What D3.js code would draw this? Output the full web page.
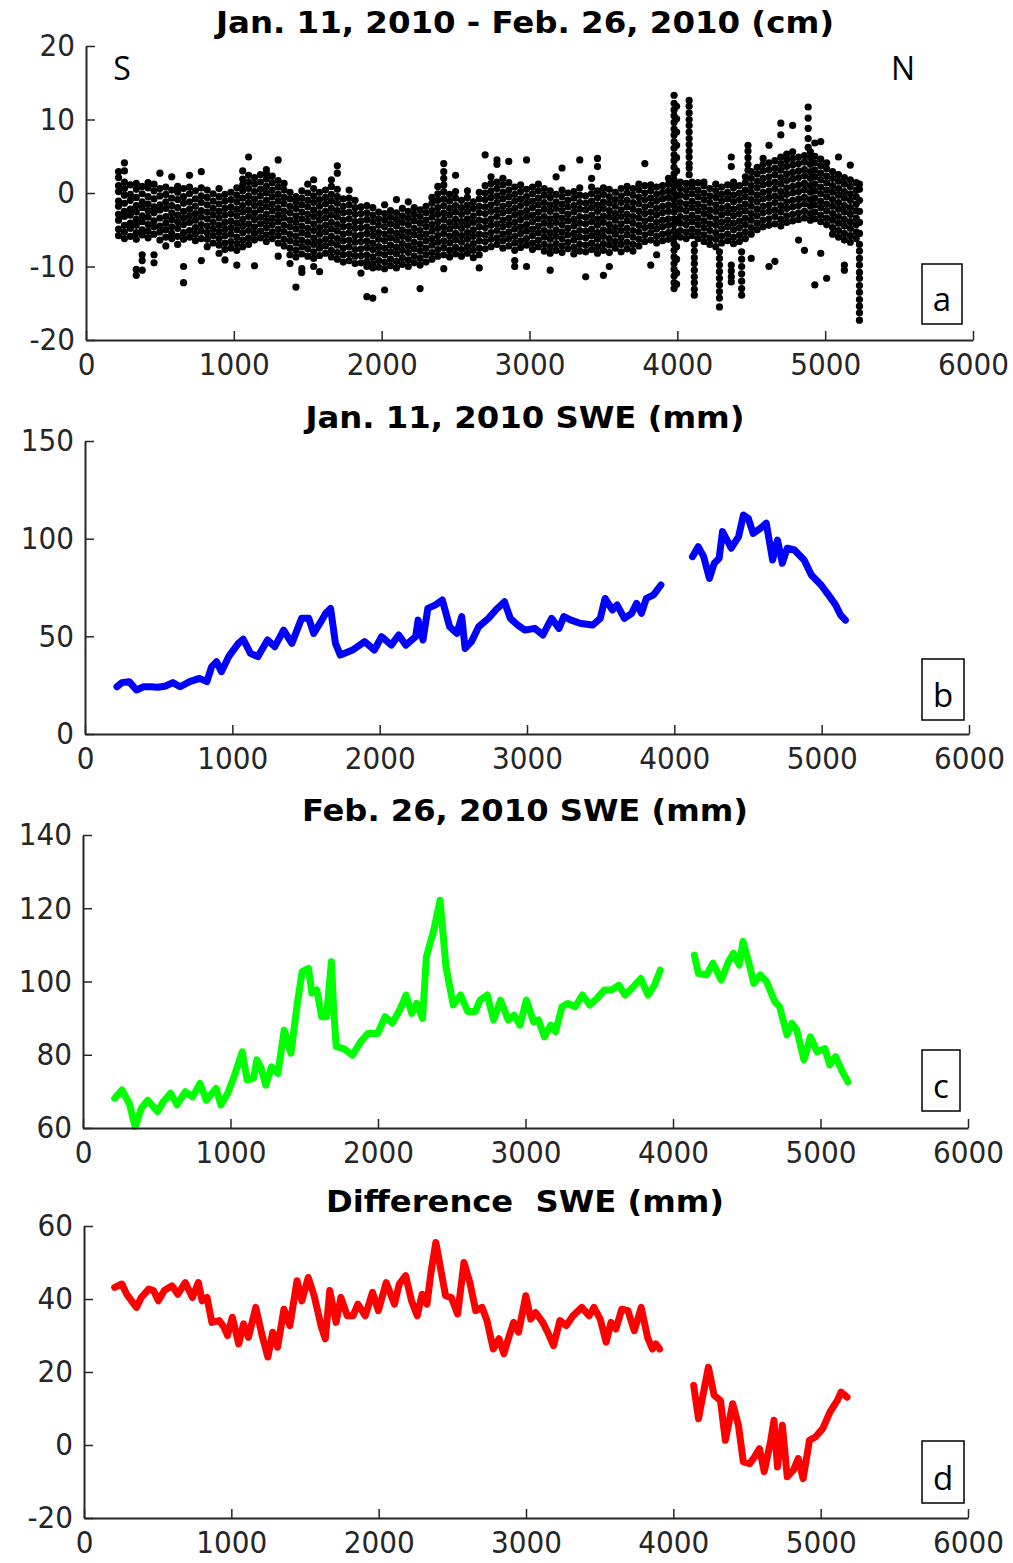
<!DOCTYPE html>
<html>
<head>
<meta charset="utf-8">
<title>SWE transect</title>
<script src="https://cdn.jsdelivr.net/npm/d3@7"></script>
<style>
  body { margin: 0; background: #fff; }
  svg text { font-family: "DejaVu Sans Condensed", "DejaVu Sans", sans-serif; font-stretch: condensed; }
</style>
</head>
<body>
<svg id="chart" width="1013" height="1563"></svg>
<script>
// ---- data ----
const titles = ["Jan. 11, 2010 - Feb. 26, 2010 (cm)", "Jan. 11, 2010 SWE (mm)", "Feb. 26, 2010 SWE (mm)", "Difference  SWE (mm)"];
const panelLetters = ["a", "b", "c", "d"];
const xTicks = [0, 1000, 2000, 3000, 4000, 5000, 6000];
const yTicksA = [-20, -10, 0, 10, 20];
const yTicksB = [0, 50, 100, 150];
const yTicksC = [60, 80, 100, 120, 140];
const yTicksD = [-20, 0, 20, 40, 60];

// panel a: [distance, depth change values ...] read column by column
const depthChange = [
  [220, -5.8,-4.9,-3.7,-2.9,-1.8,-1.1,0.2,1.0,2.1,2.9],
  [260, -6.2,-5.3,-4.4,-3.2,-2.5,-1.4,-0.3,0.6,1.5,4.1,3.0],
  [300, -5.9,-4.8,-4.1,-3.0,-2.2,-1.0,-0.2,1.1],
  [340, -6.3,-5.4,-4.4,-3.6,-2.6,-1.7,-0.6,0.5,1.3,-11.2,-10.4],
  [380, -5.7,-5.0,-3.9,-3.1,-2.0,-1.2,-0.1,0.9,-8.4,-9.2,-10.5],
  [420, -6.1,-5.2,-4.3,-3.3,-2.4,-1.5,-0.5,0.7,1.4],
  [460, -5.6,-4.6,-3.8,-2.7,-1.9,-0.8,0.3,1.2,-8.4,-9.5],
  [500, -6.4,-5.3,-4.5,-3.4,-2.3,-1.6,-0.4,0.6,2.7],
  [540, -7.2,-6.0,-5.0,-4.1,-3.2,-2.1,-1.2,-0.2,0.8],
  [580, -6.2,-5.5,-4.6,-3.6,-2.7,-1.7,-0.7,0.4,2.2],
  [620, -7.0,-5.9,-4.8,-3.9,-3.0,-2.0,-0.9,0.1,0.9],
  [660, -6.3,-5.4,-4.3,-3.4,-2.5,-1.4,-0.5,0.6,-10.0,-12.2],
  [700, -6.0,-5.1,-4.0,-3.1,-2.2,-1.2,-0.1,0.8,2.4],
  [740, -6.5,-5.6,-4.7,-3.7,-2.8,-1.8,-0.8,0.3],
  [780, -6.2,-5.2,-4.3,-3.3,-2.4,-1.3,-0.4,0.7,2.9,-9.2],
  [820, -7.3,-6.3,-5.4,-4.5,-3.5,-2.6,-1.6,-0.6,0.4],
  [860, -6.8,-5.8,-4.9,-4.0,-3.0,-2.1,-1.1,-0.1],
  [900, -8.2,-7.1,-6.2,-5.3,-4.4,-3.4,-2.5,-1.5,-0.5,0.6],
  [940, -9.1,-7.7,-6.8,-5.8,-4.9,-4.0,-3.0,-2.1,-1.1,-0.2],
  [980, -7.5,-6.6,-5.6,-4.7,-3.8,-2.8,-1.9,-0.9,0.1],
  [1020, -9.8,-7.8,-6.9,-6.0,-5.0,-4.1,-3.1,-2.2,-1.2,-0.3,0.7],
  [1060, -7.3,-6.4,-5.4,-4.5,-3.6,-2.6,-1.7,-0.7,0.3,1.1,1.9,3.0],
  [1100, -7.0,-6.1,-5.1,-4.2,-3.2,-2.3,-1.3,-0.4,0.6,1.5,2.4,4.9],
  [1140, -6.4,-5.5,-4.6,-3.6,-2.7,-1.7,-0.8,0.2,1.2,2.1,-9.9],
  [1180, -6.1,-5.2,-4.2,-3.3,-2.3,-1.4,-0.4,0.5,1.5,2.5],
  [1220, -6.6,-5.7,-4.7,-3.8,-2.9,-1.9,-1.0,0.0,0.9,1.9,2.7,3.2],
  [1260, -6.2,-5.3,-4.3,-3.4,-2.4,-1.5,-0.5,0.4,1.4,2.3],
  [1300, -6.8,-5.8,-4.9,-3.9,-3.0,-2.1,-1.1,-0.2,0.8,1.7,4.5,-8.6],
  [1340, -7.2,-6.3,-5.3,-4.4,-3.4,-2.5,-1.5,-0.6,0.4,1.3],
  [1380, -8.4,-7.5,-6.5,-5.6,-4.6,-3.7,-2.7,-1.8,-0.8,0.1,-9.6],
  [1420, -8.7,-7.8,-6.8,-5.9,-4.9,-4.0,-3.1,-2.1,-1.2,-0.5,-12.8],
  [1460, -8.3,-7.3,-6.4,-5.4,-4.5,-3.5,-2.6,-1.6,-0.7,0.3,-10.3,-10.8],
  [1500, -8.6,-7.6,-6.7,-5.7,-4.8,-3.8,-2.9,-1.9,-1.0,0.0,1.2],
  [1540, -8.9,-8.0,-7.0,-6.1,-5.1,-4.2,-3.2,-2.3,-1.3,-0.4,0.6,1.8,-10.0],
  [1580, -8.5,-7.5,-6.6,-5.6,-4.7,-3.7,-2.8,-1.8,-0.9,0.1,-10.7],
  [1620, -8.2,-7.2,-6.3,-5.3,-4.4,-3.4,-2.5,-1.5,-0.6,0.4],
  [1660, -8.7,-7.8,-6.8,-5.9,-4.9,-4.0,-3.0,-2.1,-1.1,-0.2,0.9,1.8],
  [1700, -9.0,-8.1,-7.1,-6.2,-5.2,-4.3,-3.3,-2.4,-1.4,-0.5,0.5,2.7,3.7],
  [1740, -9.4,-8.4,-7.5,-6.5,-5.6,-4.6,-3.7,-2.7,-1.8,-0.8],
  [1780, -9.2,-8.3,-7.3,-6.4,-5.4,-4.5,-3.5,-2.6,-1.6,-0.7,0.4],
  [1820, -9.6,-8.6,-7.7,-6.7,-5.8,-4.8,-3.9,-2.9,-2.0,-1.0],
  [1860, -10.9,-9.5,-8.5,-7.6,-6.6,-5.7,-4.7,-3.8,-2.8,-1.9],
  [1900, -10.0,-9.3,-8.4,-7.4,-6.5,-5.5,-4.6,-3.6,-2.7,-1.7,-14.1],
  [1940, -10.2,-9.6,-8.7,-7.7,-6.8,-5.8,-4.9,-3.9,-3.0,-2.0,-14.3],
  [1980, -10.1,-9.2,-8.2,-7.3,-6.3,-5.4,-4.4,-3.5,-2.6],
  [2020, -10.3,-9.4,-8.4,-7.5,-6.5,-5.6,-4.6,-3.7,-2.8,-1.6,-13.2],
  [2060, -9.9,-9.0,-8.0,-7.1,-6.1,-5.2,-4.2,-3.3,-2.4],
  [2100, -10.2,-9.3,-8.3,-7.4,-6.4,-5.5,-4.5,-3.6,-2.7,-0.9],
  [2140, -9.7,-8.8,-7.8,-6.9,-5.9,-5.0,-4.0,-3.1,-2.1],
  [2180, -10.0,-9.1,-8.1,-7.2,-6.2,-5.3,-4.3,-3.4,-2.5,-1.2],
  [2220, -9.5,-8.6,-7.6,-6.7,-5.7,-4.8,-3.8,-2.9,-2.0],
  [2260, -9.8,-8.9,-7.9,-7.0,-6.0,-5.1,-4.1,-3.2,-2.3,-13.0],
  [2300, -9.4,-8.4,-7.5,-6.5,-5.6,-4.6,-3.7,-2.7,-1.8],
  [2340, -9.0,-8.1,-7.1,-6.2,-5.2,-4.3,-3.3,-2.4,-1.4,-0.6],
  [2380, -8.6,-7.7,-6.7,-5.8,-4.8,-3.9,-2.9,-2.0,-1.0,-0.1,0.9],
  [2420, -10.3,-8.4,-7.4,-6.5,-5.5,-4.6,-3.6,-2.7,-1.7,-0.8,0.2,1.1,2.0,2.9,4.0],
  [2460, -8.7,-7.8,-6.8,-5.9,-4.9,-4.0,-3.0,-2.1,-1.1,-0.2],
  [2500, -8.3,-7.4,-6.4,-5.5,-4.5,-3.6,-2.6,-1.7,-0.7,0.2,2.4],
  [2540, -8.6,-7.7,-6.7,-5.8,-4.8,-3.9,-2.9,-2.0,-1.0],
  [2580, -8.2,-7.3,-6.3,-5.4,-4.4,-3.5,-2.5,-1.6,-0.6,0.3],
  [2620, -8.8,-7.8,-6.9,-5.9,-5.0,-4.0,-3.1,-2.1,-1.2],
  [2660, -8.4,-7.5,-6.5,-5.6,-4.6,-3.7,-2.7,-1.8,-0.8,0.1,-10.2],
  [2700, -7.6,-6.6,-5.7,-4.7,-3.8,-2.8,-1.9,-0.9,0.0,1.0,5.2],
  [2740, -7.3,-6.3,-5.4,-4.4,-3.5,-2.5,-1.6,-0.6,0.3,1.3,2.2],
  [2780, -7.0,-6.1,-5.1,-4.2,-3.2,-2.3,-1.3,-0.4,0.6,1.5,3.9,4.5],
  [2820, -7.5,-6.5,-5.6,-4.6,-3.7,-2.7,-1.8,-0.8,0.1,1.1,2.0],
  [2860, -7.2,-6.2,-5.3,-4.3,-3.4,-2.4,-1.5,-0.5,0.4,1.4,4.3],
  [2900, -7.8,-6.8,-5.9,-4.9,-4.0,-3.0,-2.1,-1.1,-0.2,0.8,-10.0,-9.2],
  [2940, -7.4,-6.5,-5.5,-4.6,-3.6,-2.7,-1.7,-0.8,0.2,1.1],
  [2980, -7.1,-6.2,-5.2,-4.3,-3.3,-2.4,-1.4,-0.5,0.5,4.5,-10.0],
  [3020, -7.7,-6.8,-5.8,-4.9,-3.9,-3.0,-2.0,-1.1,-0.1,0.8],
  [3060, -7.3,-6.4,-5.4,-4.5,-3.5,-2.6,-1.6,-0.7,0.3,1.2],
  [3100, -7.9,-7.0,-6.0,-5.1,-4.1,-3.2,-2.2,-1.3,-0.3,0.6],
  [3140, -8.2,-7.3,-6.3,-5.4,-4.4,-3.5,-2.5,-1.6,-0.6,0.3,-10.5],
  [3180, -7.8,-6.9,-5.9,-5.0,-4.0,-3.1,-2.1,-1.2,-0.2,2.2],
  [3220, -8.1,-7.2,-6.2,-5.3,-4.3,-3.4,-2.4,-1.5,-0.5,0.4,3.4],
  [3260, -7.6,-6.7,-5.7,-4.8,-3.8,-2.9,-1.9,-1.0,0.0],
  [3300, -8.3,-7.4,-6.4,-5.5,-4.5,-3.6,-2.6,-1.7,-0.7,0.2],
  [3340, -7.9,-7.0,-6.0,-5.1,-4.1,-3.2,-2.2,-1.3,-0.3,0.7,4.5],
  [3380, -8.0,-7.1,-6.1,-5.2,-4.2,-3.3,-2.3,-1.4,-0.4,-11.4],
  [3420, -7.7,-6.8,-5.8,-4.9,-3.9,-3.0,-2.0,-1.1,-0.1,0.8,2.0],
  [3460, -8.2,-7.3,-6.3,-5.4,-4.4,-3.5,-2.5,-1.6,-0.6,0.3,3.6,4.7],
  [3500, -7.8,-6.9,-5.9,-5.0,-4.0,-3.1,-2.1,-1.2,-0.2,0.7,-11.2],
  [3540, -8.1,-7.1,-6.2,-5.2,-4.3,-3.3,-2.4,-1.4,-0.5,0.5,-10.0],
  [3580, -7.5,-6.6,-5.6,-4.7,-3.7,-2.8,-1.8,-0.9,0.1],
  [3620, -8.0,-7.0,-6.1,-5.1,-4.2,-3.2,-2.3,-1.3,-0.4,0.6],
  [3660, -7.6,-6.7,-5.7,-4.8,-3.8,-2.9,-1.9,-1.0,0.0,0.9],
  [3700, -7.9,-7.0,-6.0,-5.1,-4.1,-3.2,-2.2,-1.3,-0.3,0.6],
  [3740, -7.2,-6.3,-5.3,-4.4,-3.4,-2.5,-1.5,-0.6,0.4,1.2],
  [3780, -6.6,-5.7,-4.7,-3.8,-2.8,-1.9,-0.9,0.0,1.0,4.0],
  [3820, -6.4,-5.4,-4.5,-3.5,-2.6,-1.6,-0.7,0.3,1.1,-9.8],
  [3860, -6.8,-5.9,-4.9,-4.0,-3.0,-2.1,-1.1,-0.2,0.8,-8.4],
  [3900, -6.5,-5.6,-4.6,-3.7,-2.7,-1.8,-0.8,0.1,1.0],
  [3940, -6.3,-5.4,-4.4,-3.5,-2.5,-1.6,-0.6,0.3,1.2,2.0],
  [3978, -13.0,-12.2,-11.3,-10.4,-9.6,-8.7,-7.8,-6.9,-6.1,-5.2,-4.3,-3.5,-2.6,-1.7,-0.9,0.0,0.9,1.8,2.6,3.5,4.4,5.2,6.1,7.0,7.9,8.7,9.6,10.5,11.3,12.2,13.3],
  [3995, -12.4,-10.9,-9.0,-7.3,-5.6,-3.9,-2.2,-0.4,1.3,3.0,4.8,6.5,8.3,10.1,11.8],
  [4020, -6.0,-5.1,-4.1,-3.2,-2.2,-1.3,-0.3,0.6,1.5],
  [4060, -6.2,-5.3,-4.3,-3.4,-2.4,-1.5,-0.5,0.4,1.3],
  [4080, 12.6,11.8,10.9,10.0,9.2,8.3,7.4,6.6,5.7,4.9,4.0,3.4,2.5],
  [4100, -5.8,-4.9,-3.9,-3.0,-2.0,-1.1,-0.1,0.8,1.5],
  [4115, -7.0,-7.9,-8.8,-9.6,-10.5,-11.4,-12.2,-13.1,-13.9],
  [4140, -6.2,-5.3,-4.3,-3.4,-2.4,-1.5,-0.5,0.4,1.4],
  [4180, -6.6,-5.7,-4.7,-3.8,-2.8,-1.9,-0.9,0.0,1.0,1.5],
  [4220, -7.0,-6.1,-5.1,-4.2,-3.2,-2.3,-1.3,-0.4,0.6],
  [4260, -7.3,-6.3,-5.4,-4.4,-3.5,-2.5,-1.6,-0.6,0.3,1.2],
  [4285, -8.0,-8.9,-9.8,-10.7,-11.6,-12.5,-13.4,-14.3,-15.5],
  [4300, -6.8,-5.9,-4.9,-4.0,-3.0,-2.1,-1.1,-0.2,0.8],
  [4340, -6.5,-5.6,-4.6,-3.7,-2.7,-1.8,-0.8,0.1,1.1],
  [4365, 4.9,3.6,-9.8,-10.6,-11.4,-12.1],
  [4380, -6.9,-6.0,-5.0,-4.1,-3.1,-2.2,-1.2,-0.3,0.7,1.5],
  [4420, -6.6,-5.7,-4.7,-3.8,-2.8,-1.9,-0.9,0.0,1.0],
  [4435, -8.0,-9.0,-10.0,-11.0,-12.0,-13.0,-13.9],
  [4460, -6.2,-5.3,-4.3,-3.4,-2.4,-1.5,-0.5,0.4,1.4,2.2],
  [4478, 3.1,3.9,4.8,5.7,6.5],
  [4500, -8.9,-5.6,-4.7,-3.7,-2.8,-1.8,-0.9,0.1,1.0,2.0,2.9],
  [4540, -5.0,-4.1,-3.1,-2.2,-1.2,-0.3,0.7,1.6,2.6,3.5],
  [4580, -4.6,-3.7,-2.7,-1.8,-0.8,0.1,1.1,2.0,3.0,3.9,4.7],
  [4620, -10.0,-4.4,-3.5,-2.5,-1.6,-0.6,0.3,1.3,2.2,3.2,4.1,6.5],
  [4660, -9.3,-4.2,-3.2,-2.3,-1.3,-0.4,0.6,1.5,2.5,3.4,4.4],
  [4700, -4.5,-3.6,-2.6,-1.7,-0.7,0.2,1.2,2.1,3.1,4.0,4.9,7.9,9.5],
  [4740, -4.0,-3.1,-2.1,-1.2,-0.2,0.7,1.7,2.6,3.6,4.5,5.3],
  [4780, -3.8,-2.9,-1.9,-1.0,0.0,0.9,1.9,2.8,3.8,4.7,5.6,9.2],
  [4820, -6.4,-3.6,-2.7,-1.7,-0.8,0.2,1.1,2.1,3.0,4.0,4.9],
  [4860, -7.8,-3.4,-2.5,-1.5,-0.6,0.4,1.3,2.3,3.2,4.2,5.1],
  [4885, 11.7,10.2,8.8,7.4,6.2],
  [4900, -3.7,-2.8,-1.8,-0.9,0.1,1.0,2.0,2.9,3.9,4.8,5.6],
  [4930, -12.5,-3.5,-2.6,-1.6,-0.7,0.3,1.2,2.2,3.1,4.1,5.0,6.8],
  [4970, -8.2,-3.9,-3.0,-2.0,-1.1,-0.1,0.8,1.8,2.7,3.7,4.6,7.0],
  [5010, -11.6,-4.3,-3.4,-2.4,-1.5,-0.5,0.4,1.4,2.3,3.3,4.1],
  [5050, -5.6,-4.7,-3.7,-2.8,-1.8,-0.9,0.1,1.0,2.0,2.9],
  [5090, -6.0,-5.1,-4.1,-3.2,-2.2,-1.3,-0.3,0.6,1.6,2.5,4.9],
  [5130, -9.8,-10.5,-6.4,-5.5,-4.5,-3.6,-2.6,-1.7,-0.7,0.2,1.2,2.1],
  [5170, -6.7,-5.8,-4.8,-3.9,-2.9,-2.0,-1.0,-0.1,0.9,1.8,3.8],
  [5210, -6.2,-5.3,-4.3,-3.4,-2.4,-1.5,-0.5,0.4,1.4],
  [5232, -7.0,-7.9,-8.9,-9.8,-10.8,-11.6,-12.6,-13.5,-14.5,-15.4,-16.3,-17.3,-5.5,-4.0,-2.5,-1.0,0.5,1.2]
];

// panels b-d: [distance, value], null = gap in the transect
const janSwe = [
  [217,24.2],[250,26.3],[300,26.8],[349,22.5],[398,24.2],[448,24.2],[497,23.9],[547,24.6],[596,26.3],[646,24.2],
  [711,26.8],[777,28.5],[827,26.8],[860,34.5],[893,37],[926,31.9],[975,39.6],[1041,46.4],[1074,48.5],[1123,41.3],
  [1173,39.6],[1239,48.1],[1288,44.7],[1348,53.2],[1404,46.4],[1470,59.2],[1519,59.2],[1552,51.5],[1601,57.5],[1634,61.8],
  [1667,64.3],[1700,46.4],[1733,40.4],[1816,43],[1898,47.3],[1964,43],[2013,49.8],[2079,45.5],[2129,50.7],[2178,45.5],
  [2244,49.8],[2261,58.3],[2294,48.1],[2327,64.3],[2376,66],[2425,68.6],[2475,54.9],[2524,51.5],[2557,60.1],[2580,43.8],
  [2623,47.3],[2672,54.9],[2738,59.2],[2788,63.5],[2847,67.7],[2887,59.2],[2936,55.8],[2986,53.2],[3052,54.1],[3108,50.7],
  [3167,59.2],[3217,54.1],[3250,60.1],[3299,58.3],[3365,56.6],[3447,55.8],[3497,59.2],[3530,69.4],[3579,63.5],[3612,66],
  [3661,59.2],[3711,61.8],[3744,66.9],[3777,61.8],[3810,69.4],[3859,71.2],[3909,76.3],
  null,
  [4123,90.8],[4162,95.9],[4199,90.8],[4238,79.7],[4271,87.4],[4304,89.9],[4327,103.6],[4386,95.1],[4436,101],[4469,112.1],
  [4502,110.4],[4535,102.7],[4584,105.3],[4624,107.9],[4667,89.1],[4700,99.3],[4733,87.4],[4766,95.1],[4815,94.2],[4881,89.1],
  [4930,81.4],[4996,76.3],[5046,71.2],[5095,66],[5128,60.9],[5161,58.3]
];

const febSwe = [
  [215,68.1],[264,70.4],[314,66.7],[353,60.4],[396,65.4],[439,67.6],[505,64.5],[545,67.2],[594,69.5],[637,66.3],
  [694,69.9],[743,68.5],[793,72.2],[836,67.6],[902,70.8],[935,66.3],[981,69.5],[1024,74.0],[1080,80.8],[1113,73.1],
  [1156,73.6],[1179,78.6],[1205,76.7],[1239,71.7],[1278,76.7],[1321,74.9],[1364,86.7],[1410,80.4],[1453,94.0],[1486,102.7],
  [1529,103.6],[1552,96.8],[1585,97.7],[1618,90.4],[1651,90.4],[1684,105.4],[1701,91.3],[1717,82.2],[1767,81.7],[1827,79.9],
  [1883,83.6],[1932,85.8],[1998,85.8],[2048,90.4],[2097,88.6],[2147,92.2],[2190,96.3],[2229,91.3],[2262,94.0],[2302,89.9],
  [2328,106.8],[2378,114.0],[2421,122.2],[2461,104.0],[2510,93.6],[2560,96.3],[2609,91.8],[2659,91.8],[2692,94.9],[2741,96.3],
  [2784,89.5],[2831,94.9],[2883,89.5],[2923,90.8],[2963,88.1],[3006,94.9],[3055,89.0],[3088,89.5],[3128,84.9],[3171,88.1],
  [3204,86.3],[3247,93.1],[3286,94.0],[3336,93.1],[3386,96.3],[3435,93.6],[3485,95.4],[3534,97.7],[3584,97.7],[3633,99.0],
  [3676,96.3],[3732,98.6],[3782,100.8],[3831,96.3],[3874,99.0],[3914,103.1],
  null,
  [4145,107.2],[4172,102.2],[4228,101.8],[4271,105.0],[4327,100.4],[4376,105.4],[4410,107.7],[4449,104.5],[4475,110.9],[4515,105.0],
  [4548,99.5],[4591,101.8],[4634,100.0],[4690,94.5],[4723,93.1],[4773,85.4],[4806,88.6],[4839,86.8],[4888,78.6],[4931,84.9],
  [4977,80.8],[5030,81.7],[5063,77.2],[5103,79.5],[5143,75.8],[5186,72.6]
];

const diffSwe = [
  [208,43.2],[257,44.1],[290,41.3],[323,39.5],[356,37.7],[389,40.4],[439,42.7],[472,42.3],[505,39.5],[545,42.3],
  [598,43.6],[637,41.3],[687,44.5],[736,40.4],[776,44.5],[802,39.5],[835,40.4],[868,33.6],[918,34.1],[951,32.2],
  [974,30.0],[1007,35.0],[1050,27.7],[1083,33.2],[1116,29.5],[1166,37.7],[1209,30.0],[1248,24.1],[1281,30.9],[1314,26.8],
  [1357,37.2],[1397,32.7],[1446,45.0],[1479,39.5],[1522,45.9],[1562,40.9],[1612,32.2],[1638,29.1],[1668,42.3],[1711,33.6],
  [1744,40.4],[1787,35.4],[1826,35.4],[1859,38.6],[1909,35.4],[1958,41.8],[1998,36.8],[2051,44.5],[2107,38.6],[2140,44.1],
  [2183,46.4],[2223,39.5],[2262,35.4],[2295,41.3],[2328,38.6],[2355,47.3],[2388,55.5],[2421,48.2],[2454,40.9],[2493,40.4],
  [2536,35.9],[2579,50.0],[2619,44.5],[2659,36.8],[2702,37.7],[2735,34.1],[2778,26.3],[2817,29.1],[2850,25.0],[2883,29.5],
  [2916,33.6],[2949,30.9],[2999,40.9],[3032,34.5],[3065,36.3],[3114,33.6],[3147,30.9],[3187,27.2],[3230,34.1],[3273,32.7],
  [3319,35.4],[3379,37.7],[3428,35.4],[3461,37.7],[3504,34.5],[3544,28.2],[3577,33.6],[3610,31.8],[3650,37.2],[3692,36.8],
  [3735,31.3],[3782,37.7],[3825,29.5],[3858,26.3],[3881,27.7],[3907,26.3],
  null,
  [4138,16.3],[4171,7.2],[4205,14.5],[4238,21.3],[4277,13.6],[4320,12.2],[4353,1.3],[4403,11.3],[4442,5.4],[4475,-4.6],
  [4518,-5.1],[4552,-3.2],[4585,-1.0],[4617,-7.3],[4660,0.9],[4683,6.8],[4707,-6.0],[4740,5.4],[4773,-8.7],[4815,-6.9],
  [4848,-3.7],[4881,-9.2],[4924,1.3],[4964,2.2],[5014,4.5],[5063,9.0],[5113,12.2],[5139,14.5],[5179,13.1]
];

// ---- layout ----
const panels = [
  { x0: 86, x1: 973, yTop: 46, yBot: 340, domain: [-20, 20], ticks: yTicksA, titleY: 33, box: [922, 264, 40, 60] },
  { x0: 85, x1: 969, yTop: 441, yBot: 734, domain: [0, 150], ticks: yTicksB, titleY: 428, box: [922, 659, 42, 61], series: janSwe, color: "#0000ff" },
  { x0: 83, x1: 968, yTop: 835, yBot: 1128, domain: [60, 140], ticks: yTicksC, titleY: 821, box: [922, 1050, 38, 61], series: febSwe, color: "#00ff00" },
  { x0: 84, x1: 968, yTop: 1226, yBot: 1518, domain: [-20, 60], ticks: yTicksD, titleY: 1212, box: [922, 1441, 42, 62], series: diffSwe, color: "#ff0000" }
];
const titleWidths = [618, 439, 446, 398];

const svg = d3.select("#chart");
svg.append("rect").attr("width", 1013).attr("height", 1563).attr("fill", "#fff");

panels.forEach(function(p, i) {
  const x = d3.scaleLinear().domain([0, 6000]).range([p.x0, p.x1]);
  const y = d3.scaleLinear().domain(p.domain).range([p.yBot, p.yTop]);
  const g = svg.append("g");

  if (i === 0) {
    depthChange.forEach(function(row) {
      g.selectAll(null).data(row.slice(1)).enter().append("circle")
        .attr("cx", x(row[0]))
        .attr("cy", function(d) { return y(d); })
        .attr("r", 3.6)
        .attr("fill", "#000");
    });
  } else {
    const line = d3.line()
      .defined(function(d) { return d !== null; })
      .x(function(d) { return x(d[0]); })
      .y(function(d) { return y(d[1]); });
    g.append("path")
      .datum(p.series)
      .attr("d", line)
      .attr("fill", "none")
      .attr("stroke", p.color)
      .attr("stroke-width", 7)
      .attr("stroke-linejoin", "round")
      .attr("stroke-linecap", "round");
  }

  // axes, ticks pointing inwards
  const xa = g.append("g").attr("transform", "translate(0," + p.yBot + ")")
    .call(d3.axisBottom(x).tickValues(xTicks).tickSize(-9).tickSizeOuter(0).tickPadding(13)
      .tickFormat(function(d) { return String(d); }));
  const ya = g.append("g").attr("transform", "translate(" + p.x0 + ",0)")
    .call(d3.axisLeft(y).tickValues(p.ticks).tickSize(-9).tickSizeOuter(0).tickPadding(11)
      .tickFormat(function(d) { return String(d); }));
  [xa, ya].forEach(function(a) {
    a.select(".domain").attr("stroke", "#262626").attr("stroke-width", 2);
    a.selectAll(".tick line").attr("stroke", "#262626").attr("stroke-width", 1.5);
    a.selectAll(".tick text").attr("fill", "#262626").style("font-size", "31px")
      .style("font-family", "'DejaVu Sans Condensed', 'DejaVu Sans', sans-serif");
  });

  // title
  g.append("text")
    .attr("x", 525).attr("y", p.titleY)
    .attr("text-anchor", "middle")
    .attr("textLength", titleWidths[i])
    .attr("lengthAdjust", "spacingAndGlyphs")
    .style("white-space", "pre")
    .style("font-size", "31px").style("font-weight", "bold")
    .attr("fill", "#000")
    .text(titles[i]);

  // panel letter box
  g.append("rect")
    .attr("x", p.box[0]).attr("y", p.box[1]).attr("width", p.box[2]).attr("height", p.box[3])
    .attr("fill", "#fff").attr("stroke", "#000").attr("stroke-width", 1.5);
  g.append("text")
    .attr("x", p.box[0] + p.box[2] / 2).attr("y", p.box[1] + p.box[3] - 13)
    .attr("text-anchor", "middle")
    .style("font-family", "'Open Sans', 'Noto Sans', sans-serif").style("font-stretch", "normal")
    .style("font-size", "33px")
    .text(panelLetters[i]);
});

// S / N orientation marks on panel a
[["S", 122], ["N", 903]].forEach(function(d) {
  svg.append("text").attr("x", d[1]).attr("y", 80).attr("text-anchor", "middle")
    .style("font-family", "'Open Sans', 'Noto Sans', sans-serif").style("font-stretch", "normal")
    .style("font-size", "32px")
    .text(d[0]);
});
</script>
</body>
</html>
